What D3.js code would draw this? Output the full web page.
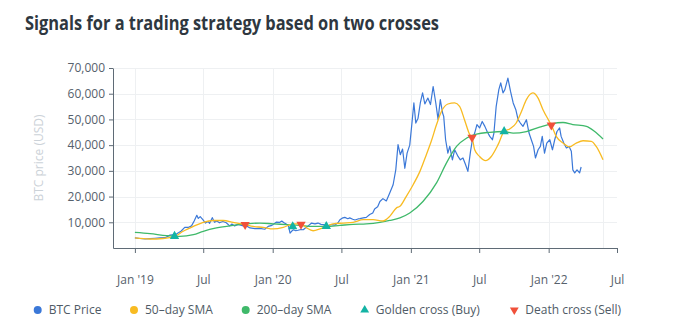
<!DOCTYPE html>
<html>
<head>
<meta charset="utf-8">
<script src="https://cdn.jsdelivr.net/npm/d3@7"></script>
<style>
  body { margin: 0; background: #fff; }
  svg { display: block; font-family: "Open Sans", sans-serif; }
</style>
</head>
<body>
<svg id="chart" width="677" height="333"></svg>
<script>
const parse = d3.timeParse("%Y-%m-%d");

// BTC closing price (USD)
const priceDates = [
  "2019-01-01","2019-01-15","2019-01-28","2019-02-10","2019-02-23","2019-03-08","2019-03-22","2019-04-04",
  "2019-04-16","2019-04-22","2019-05-03","2019-05-13","2019-05-22","2019-05-31","2019-06-07","2019-06-14",
  "2019-06-18","2019-06-23","2019-06-30","2019-07-07","2019-07-14","2019-07-18","2019-07-25","2019-07-31",
  "2019-08-06","2019-08-13","2019-08-22","2019-08-31","2019-09-09","2019-09-15","2019-09-22","2019-10-01",
  "2019-10-08","2019-10-15","2019-10-20","2019-11-02","2019-11-15","2019-11-28","2019-12-11","2019-12-20",
  "2019-12-30","2020-01-11","2020-01-20","2020-01-25","2020-01-31","2020-02-07","2020-02-12","2020-02-16",
  "2020-02-20","2020-02-25","2020-03-02","2020-03-08","2020-03-16","2020-03-22","2020-03-29","2020-04-04",
  "2020-04-13","2020-04-22","2020-04-30","2020-05-08","2020-05-14","2020-05-21","2020-05-27","2020-06-03",
  "2020-06-14","2020-06-22","2020-06-27","2020-07-03","2020-07-10","2020-07-18","2020-07-23","2020-07-31",
  "2020-08-06","2020-08-14","2020-08-19","2020-08-28","2020-09-05","2020-09-14","2020-09-22","2020-09-27",
  "2020-10-05","2020-10-11","2020-10-19","2020-10-28","2020-11-06","2020-11-15","2020-11-22","2020-11-28",
  "2020-12-04","2020-12-10","2020-12-16","2020-12-22","2020-12-29","2021-01-03","2021-01-09","2021-01-14",
  "2021-01-20","2021-01-26","2021-02-01","2021-02-07","2021-02-15","2021-02-22","2021-03-01","2021-03-08",
  "2021-03-14","2021-03-20","2021-03-26","2021-03-29","2021-04-03","2021-04-09","2021-04-14","2021-04-21",
  "2021-04-27","2021-05-06","2021-05-12","2021-05-19","2021-05-26","2021-06-01","2021-06-08","2021-06-13",
  "2021-06-19","2021-06-25","2021-07-02","2021-07-09","2021-07-16","2021-07-22","2021-07-29","2021-08-05",
  "2021-08-09","2021-08-15","2021-08-22","2021-08-27","2021-09-02","2021-09-07","2021-09-15","2021-09-22",
  "2021-09-29","2021-10-06","2021-10-12","2021-10-18","2021-10-25","2021-11-03","2021-11-10","2021-11-16",
  "2021-11-22","2021-11-27","2021-12-04","2021-12-10","2021-12-15","2021-12-21","2021-12-27","2022-01-04",
  "2022-01-11","2022-01-17","2022-01-23","2022-01-30","2022-02-03","2022-02-10","2022-02-17","2022-02-24",
  "2022-03-02","2022-03-06","2022-03-11","2022-03-17","2022-03-24","2022-03-28"
];
const priceValues = [
  3900, 3700, 3500, 3650, 3800, 3900, 4000, 5000,
  5200, 5500, 6500, 8000, 8000, 8600, 10500, 12700,
  11500, 12200, 11000, 9700, 10300, 9600, 11800, 10000,
  10500, 9800, 10300, 9800, 8600, 9300, 8600, 9200,
  8900, 8600, 8900, 7800, 7500, 7600, 7300, 8400,
  8800, 10100, 10000, 10500, 9800, 9200, 8500, 5800,
  6500, 7100, 6700, 6900, 7200, 7100, 8000, 8600,
  9700, 9400, 9700, 9200, 9100, 8800, 8500, 9100,
  8900, 9800, 11000, 11600, 11900, 11400, 11700, 11200,
  10900, 11300, 11400, 11700, 11900, 13000, 13600, 15200,
  16000, 18100, 19200, 18300, 21400, 24600, 30400, 40200,
  36300, 38500, 31000, 36900, 40000, 47300, 56400, 48600,
  50500, 56400, 60300, 56000, 58300, 55800, 62800, 56400,
  50000, 57700, 52500, 51200, 42100, 36900, 39500, 34300,
  38200, 35600, 34300, 35000, 32400, 29800, 37600, 42100,
  44700, 48000, 46700, 49200, 47300, 45300, 43400, 42100,
  44700, 55100, 61600, 64200, 60300, 61600, 66100, 60900,
  56400, 53800, 49900, 48600, 47300, 49900, 44700, 42100,
  39500, 35000, 38200, 39500, 43400, 36900, 40800, 42100,
  38200, 42100, 45300, 46700, 43400, 40800, 38900, 39500,
  37600, 30400, 29200, 30400, 29200, 31500
];

// 50-day simple moving average
const sma50Dates = [
  "2019-01-01","2019-02-10","2019-03-17","2019-04-16","2019-05-09","2019-06-05","2019-07-01","2019-07-28",
  "2019-08-23","2019-09-18","2019-10-20","2019-11-10","2019-12-07","2020-01-02","2020-01-29","2020-02-25",
  "2020-03-16","2020-03-31","2020-04-17","2020-05-05","2020-05-22","2020-06-09","2020-07-06","2020-08-01",
  "2020-08-28","2020-09-23","2020-10-19","2020-11-06","2020-11-24","2020-12-03","2020-12-20","2021-01-07",
  "2021-01-25","2021-02-11","2021-02-24","2021-03-10","2021-03-23","2021-04-09","2021-04-27","2021-05-10",
  "2021-05-23","2021-06-06","2021-06-12","2021-06-19","2021-07-02","2021-07-18","2021-08-02","2021-08-20",
  "2021-09-05","2021-09-20","2021-10-07","2021-10-21","2021-11-03","2021-11-20","2021-12-04","2021-12-17",
  "2021-12-31","2022-01-08","2022-01-21","2022-02-08","2022-02-25","2022-03-15","2022-04-02","2022-04-24",
  "2022-05-07","2022-05-25"
];
const sma50Values = [
  3900, 3500, 3700, 4500, 6500, 8400, 10000, 10700,
  10700, 10000, 9100, 8400, 8000, 7400, 8000, 9400,
  9400, 7800, 6700, 7400, 8400, 9400, 9700, 10000,
  11000, 11000, 10500, 12300, 15600, 16200, 20100, 24600,
  29800, 36300, 41500, 48000, 53100, 56000, 56400, 55100,
  49900, 44100, 43000, 38200, 35600, 34000, 35600, 40200,
  45300, 46300, 48600, 53100, 57700, 60300, 58300, 53800,
  49900, 47800, 43400, 40800, 39300, 40800, 41700, 41500,
  39500, 34300
];

// 200-day simple moving average
const sma200Dates = [
  "2019-01-01","2019-02-10","2019-03-26","2019-04-30","2019-06-05","2019-07-01","2019-08-05","2019-09-18",
  "2019-10-24","2019-11-28","2020-01-02","2020-02-07","2020-03-13","2020-04-17","2020-05-22","2020-06-27",
  "2020-08-01","2020-09-05","2020-10-11","2020-11-06","2020-12-03","2020-12-29","2021-02-02","2021-03-10",
  "2021-04-05","2021-05-02","2021-05-29","2021-06-24","2021-07-29","2021-09-05","2021-09-29","2021-11-03",
  "2021-12-08","2022-01-08","2022-02-08","2022-03-06","2022-04-11","2022-05-03","2022-05-25"
];
const sma200Values = [
  6100, 5600, 4800, 4500, 5200, 6500, 7800, 8800,
  9400, 9700, 9400, 9100, 8800, 8400, 8400, 8800,
  9200, 9400, 10000, 10700, 11700, 13600, 18100, 25300,
  33000, 39500, 42800, 44300, 45000, 45300, 44700, 45300,
  47000, 48300, 48800, 48000, 47300, 45300, 42400
];

// Crossover signals
const goldenDates = ["2019-04-16", "2020-02-23", "2020-05-22", "2021-09-05"];
const goldenValues = [4600, 8300, 8400, 45300];
const deathDates = ["2019-10-20", "2020-03-16", "2021-06-12", "2022-01-08"];
const deathValues = [9100, 9200, 43000, 47800];

const yTicks = [10000, 20000, 30000, 40000, 50000, 60000, 70000];
const xTickDates = ["2019-01-01","2019-07-01","2020-01-01","2020-07-01","2021-01-01","2021-07-01","2022-01-01","2022-07-01"];
const xTickLabels = ["Jan '19","Jul","Jan '20","Jul","Jan '21","Jul","Jan '22","Jul"];

const seriesNames = ["BTC Price", "50–day SMA", "200–day SMA", "Golden cross (Buy)", "Death cross (Sell)"];
const colors = {
  price: "#3b78d8",
  sma50: "#f8bb22",
  sma200: "#3fb96a",
  golden: "#13b3a4",
  death: "#f0503a"
};

const zip = (dates, values) => dates.map((d, i) => ({ date: parse(d), value: values[i] }));
const price = zip(priceDates, priceValues);
const sma50 = zip(sma50Dates, sma50Values);
const sma200 = zip(sma200Dates, sma200Values);
const golden = zip(goldenDates, goldenValues);
const death = zip(deathDates, deathValues);

const svg = d3.select("#chart");
const margin = { top: 68, right: 60, bottom: 85, left: 113 };
const width = +svg.attr("width");
const height = +svg.attr("height");

const x = d3.scaleTime()
  .domain([parse("2018-11-04"), parse("2022-07-01")])
  .range([margin.left, width - margin.right]);
const y = d3.scaleLinear()
  .domain([0, 70000])
  .range([height - margin.bottom, margin.top]);

// Title
svg.append("text")
  .attr("x", 25)
  .attr("y", 29.5)
  .attr("font-size", 19)
  .attr("font-weight", 700)
  .attr("fill", "#2e3740")
  .attr("textLength", 414)
  .attr("lengthAdjust", "spacingAndGlyphs")
  .text("Signals for a trading strategy based on two crosses");

// Grid
const grid = svg.append("g").attr("stroke", "#eef0f2").attr("stroke-width", 1);
grid.selectAll("line.h")
  .data(yTicks)
  .join("line")
  .attr("x1", margin.left)
  .attr("x2", width - margin.right)
  .attr("y1", (d) => Math.round(y(d)) + 0.5)
  .attr("y2", (d) => Math.round(y(d)) + 0.5);
grid.selectAll("line.v")
  .data(xTickDates.slice(0, -1).concat([sma50Dates[sma50Dates.length - 1]]))
  .join("line")
  .attr("x1", (d) => Math.round(x(parse(d))) + 0.5)
  .attr("x2", (d) => Math.round(x(parse(d))) + 0.5)
  .attr("y1", margin.top)
  .attr("y2", height - margin.bottom);

// Axes
const axisColor = "#5f6b76";
const xAxis = svg.append("g")
  .attr("transform", `translate(0,${height - margin.bottom})`)
  .call(
    d3.axisBottom(x)
      .tickValues(xTickDates.map(parse))
      .tickFormat((d, i) => xTickLabels[i])
      .tickSize(5)
      .tickPadding(22)
      .tickSizeOuter(0)
  );
const yAxis = svg.append("g")
  .attr("transform", `translate(${margin.left},0)`)
  .call(
    d3.axisLeft(y)
      .tickValues(yTicks)
      .tickFormat(d3.format(","))
      .tickSize(4)
      .tickPadding(4)
      .tickSizeOuter(0)
  );
[xAxis, yAxis].forEach((g) => {
  g.select(".domain").attr("stroke", axisColor);
  g.selectAll(".tick line").attr("stroke", axisColor);
  g.selectAll(".tick text")
    .attr("fill", "#56616c")
    .attr("font-size", 12)
    .attr("font-family", "Open Sans, sans-serif");
});

// Y axis title
svg.append("text")
  .attr("transform", `translate(43,${(margin.top + height - margin.bottom) / 2}) rotate(-90)`)
  .attr("text-anchor", "middle")
  .attr("font-size", 12)
  .attr("fill", "#ccd2d8")
  .text("BTC price (USD)");

// Lines
const line = d3.line()
  .x((d) => x(d.date))
  .y((d) => y(d.value));
const smooth = d3.line()
  .curve(d3.curveMonotoneX)
  .x((d) => x(d.date))
  .y((d) => y(d.value));

svg.append("path")
  .datum(price)
  .attr("fill", "none")
  .attr("stroke", colors.price)
  .attr("stroke-width", 1.2)
  .attr("stroke-linejoin", "round")
  .attr("d", line);
svg.append("path")
  .datum(sma200)
  .attr("fill", "none")
  .attr("stroke", colors.sma200)
  .attr("stroke-width", 1.3)
  .attr("d", smooth);
svg.append("path")
  .datum(sma50)
  .attr("fill", "none")
  .attr("stroke", colors.sma50)
  .attr("stroke-width", 1.3)
  .attr("d", smooth);

// Signal markers
const up = d3.symbol().type(d3.symbolTriangle).size(38);
const down = d3.symbol().type(d3.symbolTriangle).size(38);
svg.append("g")
  .selectAll("path")
  .data(golden)
  .join("path")
  .attr("transform", (d) => `translate(${x(d.date)},${y(d.value)})`)
  .attr("fill", colors.golden)
  .attr("d", up);
svg.append("g")
  .selectAll("path")
  .data(death)
  .join("path")
  .attr("transform", (d) => `translate(${x(d.date)},${y(d.value)}) rotate(180)`)
  .attr("fill", colors.death)
  .attr("d", down);

// Legend
const legendX = [37.7, 134, 245.7, 364.7, 514.3];
const legendColors = [colors.price, colors.sma50, colors.sma200, colors.golden, colors.death];
const legend = svg.append("g").attr("transform", "translate(0,310)");
const item = legend.selectAll("g")
  .data(seriesNames)
  .join("g")
  .attr("transform", (d, i) => `translate(${legendX[i]},0)`);
item.append("path")
  .attr("d", (d, i) =>
    i < 3
      ? d3.symbol().type(d3.symbolCircle).size(50)()
      : d3.symbol().type(d3.symbolTriangle).size(34)()
  )
  .attr("transform", (d, i) => (i === 4 ? "rotate(180)" : null))
  .attr("fill", (d, i) => legendColors[i]);
item.append("text")
  .attr("x", 11)
  .attr("dy", "0.35em")
  .attr("font-size", 12)
  .attr("fill", "#4f5b66")
  .text((d) => d);
</script>
</body>
</html>
